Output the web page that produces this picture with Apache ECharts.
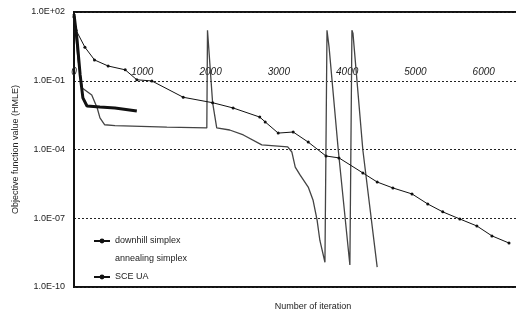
<!DOCTYPE html>
<html>
<head>
<meta charset="utf-8">
<script src="https://cdn.jsdelivr.net/npm/echarts@6/dist/echarts.min.js"></script>
<style>
  html, body { margin: 0; padding: 0; background: #ffffff; }
  #main { width: 516px; height: 314px; }
</style>
</head>
<body>
<div id="main"></div>
<script>
//Series (iteration, objective value)
var downhillIter = [0, 45, 90, 130, 190, 380, 600, 920];
var downhillValue = [81, 6.0, 0.18, 0.018, 7.9e-3, 7.2e-3, 6.5e-3, 4.8e-3];

var annealIter = [0, 60, 120, 260, 340, 380, 450, 600, 1360, 1945, 1955, 2030, 2090, 2280, 2480, 2750, 3130, 3190, 3240, 3310, 3430, 3500, 3560, 3600, 3675, 3705, 3735, 3870, 4040, 4070, 4085, 4230, 4440];
var annealValue = [55, 0.81, 0.048, 0.024, 6.5e-3, 2.4e-3, 1.2e-3, 1.1e-3, 9.5e-4, 8.7e-4, 16, 0.011, 8.7e-4, 7.1e-4, 4.3e-4, 1.6e-4, 1.3e-4, 7.8e-5, 1.7e-5, 7.8e-6, 2.3e-6, 6.3e-7, 8.3e-8, 1.1e-8, 1.2e-9, 16, 3.0, 9.5e-5, 9.1e-10, 16, 12, 9.5e-5, 7.4e-10];

var sceIter = [0, 30, 160, 300, 500, 750, 920, 1140, 1600, 2030, 2330, 2720, 2800, 2990, 3210, 3430, 3690, 3880, 4230, 4440, 4670, 4950, 5180, 5400, 5650, 5900, 6120, 6370];
var sceValue = [60, 16, 2.9, 0.81, 0.44, 0.30, 0.11, 0.098, 0.019, 0.011, 6.5e-3, 2.6e-3, 1.6e-3, 5.2e-4, 5.8e-4, 2.1e-4, 5.2e-5, 4.3e-5, 9.5e-6, 3.8e-6, 2.1e-6, 1.15e-6, 4.2e-7, 1.9e-7, 9.3e-8, 4.6e-8, 1.7e-8, 8.3e-9];

//Axis labels
var yTickValues = [1e-10, 1e-7, 1e-4, 1e-1, 1e2];
var yTickLabels = ['1.0E-10', '1.0E-07', '1.0E-04', '1.0E-01', '1.0E+02'];
var xTickLabels = ['0', '1000', '2000', '3000', '4000', '5000', '6000', '7000'];
var seriesNames = ['downhill simplex', 'annealing simplex', 'SCE UA'];

function pairs(xs, ys) {
    var out = [];
    for (var i = 0; i < xs.length; i++) {
        out.push([xs[i], ys[i]]);
    }
    return out;
}

function yLabel(v) {
    for (var i = 0; i < yTickValues.length; i++) {
        if (Math.abs(Math.log10(v) - Math.log10(yTickValues[i])) < 0.01) {
            return yTickLabels[i];
        }
    }
    return '';
}

function xLabel(v) {
    return xTickLabels[Math.round(v / 1000)] || '';
}

var font = 'Liberation Sans';
var clear = 'rgba(0,0,0,0)';
var myChart = echarts.init(document.getElementById('main'));

var option = {
    animation: false,
    backgroundColor: '#ffffff',
    grid: {
        left: 74,
        right: -36,
        top: 12,
        bottom: 27,
        outerBoundsMode: 'none',
        containLabel: false,
        show: true,
        borderColor: '#111',
        borderWidth: 2
    },
    legend: {
        orient: 'vertical',
        left: 88,
        top: 231,
        itemWidth: 16,
        itemHeight: 6,
        itemGap: 8,
        textStyle: { fontFamily: font, fontSize: 9, color: '#222', lineHeight: 10 },
        data: [
            { name: seriesNames[0] },
            { name: seriesNames[1], icon: 'none' },
            { name: seriesNames[2] }
        ]
    },
    xAxis: [
        {
            type: 'value',
            position: 'top',
            offset: -68,
            min: 0,
            max: 7000,
            interval: 1000,
            axisLine: { show: false },
            axisTick: { show: false },
            splitLine: { show: false },
            axisLabel: {
                margin: 3,
                fontFamily: font,
                fontSize: 10,
                fontStyle: 'italic',
                color: '#222',
                formatter: xLabel
            }
        },
        {
            type: 'value',
            position: 'bottom',
            min: 0,
            max: 7000,
            interval: 1000,
            axisLine: { show: false },
            axisTick: { show: false },
            splitLine: { show: false },
            axisLabel: { show: false },
            name: 'Number of iteration',
            nameLocation: 'middle',
            nameGap: 15,
            nameTextStyle: { fontFamily: font, fontSize: 9, color: '#222' }
        }
    ],
    yAxis: {
        type: 'log',
        logBase: 10,
        min: 1e-10,
        max: 1e2,
        interval: 1,
        axisLine: { show: true, lineStyle: { color: '#111', width: 2 } },
        axisTick: { show: false },
        //every third decade gets a dotted line: 1E-07, 1E-04, 1E-01
        splitLine: {
            show: true,
            lineStyle: { color: ['#222', clear, clear], width: 1, type: [2, 2] }
        },
        axisLabel: {
            margin: 9,
            fontFamily: font,
            fontSize: 9,
            color: '#222',
            formatter: yLabel
        },
        name: 'Objective function value (HMLE)',
        nameLocation: 'middle',
        nameGap: 52,
        nameTextStyle: { fontFamily: font, fontSize: 9, color: '#222' }
    },
    series: [
        {
            name: seriesNames[0],
            type: 'line',
            xAxisIndex: 0,
            data: pairs(downhillIter, downhillValue),
            symbol: 'circle',
            symbolSize: 4,
            showSymbol: false,
            itemStyle: { color: '#111' },
            lineStyle: { color: '#111', width: 3 },
            z: 4
        },
        {
            name: seriesNames[1],
            type: 'line',
            xAxisIndex: 0,
            data: pairs(annealIter, annealValue),
            symbol: 'none',
            itemStyle: { color: '#444' },
            lineStyle: { color: '#444', width: 1.3 },
            z: 3
        },
        {
            name: seriesNames[2],
            type: 'line',
            xAxisIndex: 0,
            data: pairs(sceIter, sceValue),
            symbol: 'circle',
            symbolSize: 3,
            itemStyle: { color: '#111' },
            lineStyle: { color: '#111', width: 1 },
            z: 3
        }
    ]
};

myChart.setOption(option);
</script>
</body>
</html>
